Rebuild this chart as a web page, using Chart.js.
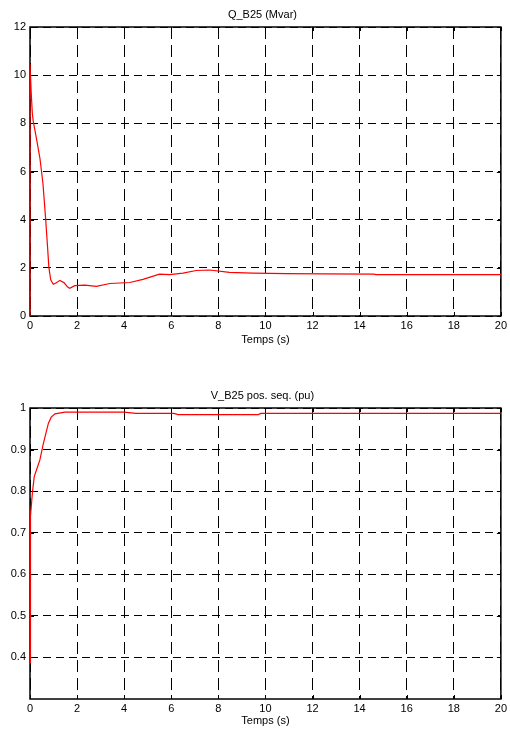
<!DOCTYPE html>
<html><head><meta charset="utf-8">
<script src="https://cdn.jsdelivr.net/npm/chart.js@4/dist/chart.umd.min.js"></script>
<style>
html,body{margin:0;padding:0;background:#fff;width:510px;height:729px;overflow:hidden}
.box{position:absolute;left:0;width:510px}
canvas{display:block}
</style></head><body>
<div class="box" style="top:0;height:351px"><canvas id="c1" width="510" height="351"></canvas></div>
<div class="box" style="top:381px;height:348px"><canvas id="c2" width="510" height="348"></canvas></div>
<script>
const qTitle = 'Q_B25 (Mvar)';
const vTitle = 'V_B25 pos. seq. (pu)';
const xTitle = 'Temps (s)';
const timeTicks = [0, 2, 4, 6, 8, 10, 12, 14, 16, 18, 20];
const qTicks = [0, 2, 4, 6, 8, 10, 12];
const vTicks = [0.4, 0.5, 0.6, 0.7, 0.8, 0.9, 1];

const qTime = [0, 0, 0.05, 0.1, 0.14, 0.25, 0.42, 0.55, 0.66, 0.75, 0.8, 0.88, 0.99, 1.12, 1.27, 1.45, 1.6, 1.69, 1.9, 2.1, 2.33, 2.82, 3.39, 4.24, 4.8, 5.5, 5.93, 6.5, 7.06, 7.63, 8.47, 9.45, 10.9, 12.5, 14.6, 14.7, 20];
const qValues = [0, 10.47, 9.3, 8.4, 8.07, 7.5, 6.56, 5.5, 4.09, 2.8, 2.03, 1.5, 1.32, 1.38, 1.48, 1.38, 1.2, 1.15, 1.26, 1.27, 1.28, 1.23, 1.35, 1.39, 1.52, 1.74, 1.72, 1.78, 1.89, 1.91, 1.81, 1.78, 1.76, 1.75, 1.74, 1.72, 1.72];

const vTime = [0, 0.02, 0.1, 0.18, 0.3, 0.42, 0.55, 0.64, 0.78, 0.9, 1.06, 1.48, 4.0, 4.5, 6.1, 6.3, 9.7, 9.8, 20];
const vValues = [0.387, 0.74, 0.795, 0.835, 0.855, 0.875, 0.91, 0.931, 0.963, 0.978, 0.986, 0.99, 0.99, 0.987, 0.987, 0.984, 0.984, 0.987, 0.987];

const FONT = {family: '"Liberation Sans", Arial, sans-serif', size: 11};
const FONT_STR = '11px "Liberation Sans", Arial, sans-serif';

const framePlugin = {
  id: 'frame',
  beforeDatasetsDraw(chart) {
    const {ctx, chartArea: a, scales} = chart;
    ctx.save();
    ctx.strokeStyle = '#000';
    ctx.lineWidth = 1;
    ctx.setLineDash([]);
    ctx.beginPath();
    scales.x.ticks.forEach(t => {
      const x = Math.round(scales.x.getPixelForValue(t.value)) + 0.5;
      ctx.moveTo(x, a.bottom); ctx.lineTo(x, a.bottom - 4);
      ctx.moveTo(x, a.top); ctx.lineTo(x, a.top + 4);
    });
    scales.y.ticks.forEach(t => {
      const y = Math.round(scales.y.getPixelForValue(t.value)) + 0.5;
      ctx.moveTo(a.left, y); ctx.lineTo(a.left + 4, y);
      ctx.moveTo(a.right, y); ctx.lineTo(a.right - 4, y);
    });
    ctx.stroke();
    ctx.lineWidth = 1.5;
    ctx.strokeRect(a.left, a.top, a.right - a.left, a.bottom - a.top);
    ctx.restore();
  },
  afterDraw(chart, args, opts) {
    const {ctx, chartArea: a} = chart;
    ctx.save();
    ctx.fillStyle = '#000';
    ctx.font = FONT_STR;
    ctx.textAlign = 'center';
    ctx.textBaseline = 'middle';
    ctx.fillText(opts.text, (a.left + a.right) / 2 - 3, a.top - 12.5);
    ctx.restore();
  }
};

function makeChart(id, title, times, values, yTicks, yMin, yMax, xHeight, xTitlePadBottom) {
  return new Chart(document.getElementById(id), {
    type: 'line',
    data: {
      datasets: [{
        data: times.map((t, i) => ({x: t, y: values[i]})),
        borderColor: '#ff0000',
        borderWidth: 1.2,
        pointRadius: 0,
        tension: 0,
        fill: false
      }]
    },
    options: {
      responsive: false,
      animation: false,
      events: [],
      layout: {padding: {top: 27, right: 8, left: 0, bottom: 0}},
      plugins: {legend: {display: false}, tooltip: {enabled: false}, frame: {text: title}},
      scales: {
        x: {
          type: 'linear', min: 0, max: 20,
          afterBuildTicks: s => { s.ticks = timeTicks.map(v => ({value: v})); },
          afterFit: s => { s.height = xHeight; },
          ticks: {font: FONT, color: '#000', padding: 3, maxRotation: 0, autoSkip: false},
          grid: {color: '#000', lineWidth: 1, drawTicks: false},
          border: {display: false, dash: [12, 6]},
          title: {display: true, text: xTitle, font: FONT, color: '#000', padding: {top: 0, bottom: xTitlePadBottom}}
        },
        y: {
          type: 'linear', min: yMin, max: yMax,
          afterBuildTicks: s => { s.ticks = yTicks.map(v => ({value: v})); },
          afterFit: s => { s.width = 30; },
          ticks: {font: FONT, color: '#000', padding: 4, autoSkip: false,
                  callback: v => String(Number(v.toFixed(2)))},
          grid: {color: '#000', lineWidth: 1, drawTicks: false},
          border: {display: false, dash: [8, 5]}
        }
      }
    },
    plugins: [framePlugin]
  });
}

makeChart('c1', qTitle, qTime, qValues, qTicks, 0, 12, 35, 4);
makeChart('c2', vTitle, vTime, vValues, vTicks, 0.3, 1, 30, 1);
</script>
</body></html>
